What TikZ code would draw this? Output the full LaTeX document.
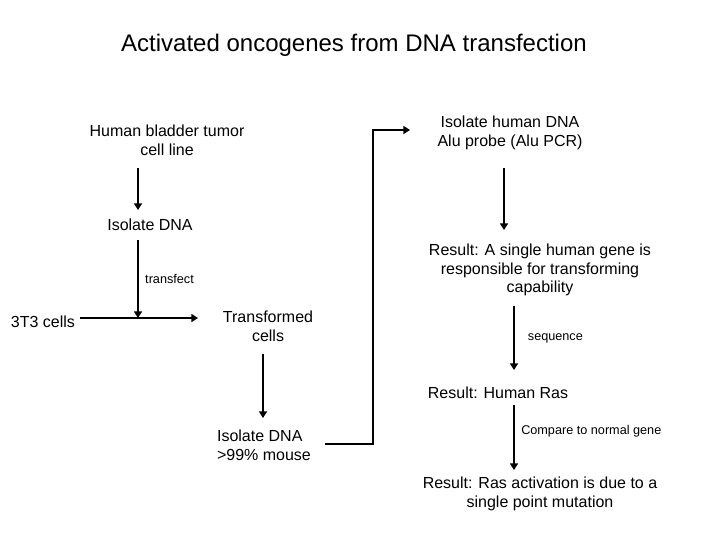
\documentclass[tikz,border=0pt]{standalone}
\usepackage{fontspec}
\setmainfont{Liberation Sans}
\usetikzlibrary{arrows.meta}
\tikzset{
    stage/.style = {align=center, font=\fontsize{12}{14}\selectfont},
    note/.style = {font=\fontsize{9.5}{11}\selectfont},
    flow/.style = {line width=2.2pt, -{Triangle[length=5pt,width=6pt]}},
}
\begin{document}
\begin{tikzpicture}[x=0.75pt, y=-0.75pt]
        \useasboundingbox (0,0) rectangle (720,540);
        % Title
        \node[font=\fontsize{18}{22}\selectfont] (title) at (354,45) {Activated oncogenes from DNA transfection};
        % Left column
        \node[stage] (tumor) at (167,140) {Human bladder tumor\\cell line};
        \node[stage] (iso1) at (150,225) {Isolate DNA};
        \node[stage] (t3) at (43,322) {3T3 cells};
        \node[stage] (trans) at (268,326) {Transformed\\cells};
        \node[stage, align=left] (iso2) at (264,445) {Isolate DNA\\>99\% mouse};
        % Right column
        \node[stage] (alu) at (510,133) {Isolate human DNA\\Alu probe (Alu PCR)};
        \node[stage] (res1) at (540,270) {Result: A single human gene is\\responsible for transforming\\capability};
        \node[stage] (ras) at (498,393) {Result: Human Ras};
        \node[stage] (res2) at (540,494) {Result: Ras activation is due to a\\single point mutation};
        % Connectors
        \coordinate (a1) at (138,168);
        \coordinate (a2) at (138,240);
        \coordinate (a3) at (138,318);
        \draw[flow] (a1) -- (138,210);
        \draw[flow] (a2) -- (a3) node[note, midway, right=1pt] {transfect};
        \draw[flow] (80,318) -- (198,318);
        \draw[flow] (263,354) -- (263,418);
        \draw[flow] (325,444) -| (373,130) -- (410,130);
        \draw[flow] (504,168) -- (504,230);
        \draw[flow] (514,306) -- (514,370) node[note, midway, right=6pt] {sequence};
        \draw[flow] (514,405) -- (514,470) node[note, pos=0.4, right=1pt] {Compare to normal gene};
\end{tikzpicture}
\end{document}
